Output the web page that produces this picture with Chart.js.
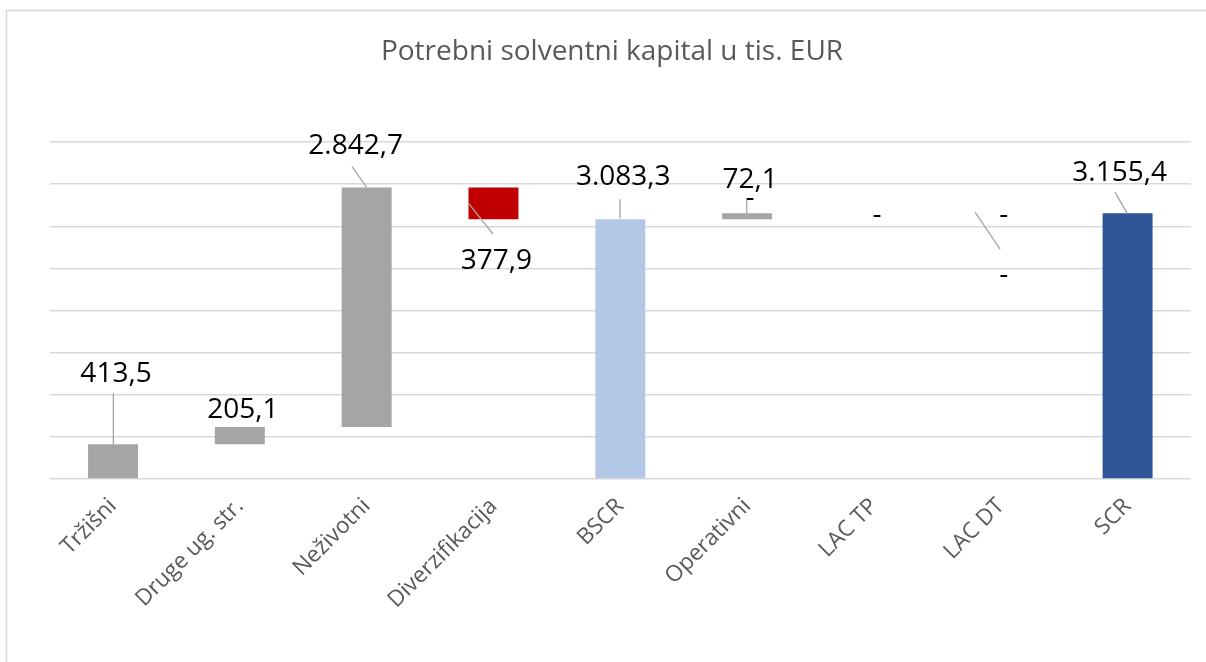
<!DOCTYPE html>
<html>
<head>
<meta charset="utf-8">
<script src="https://cdn.jsdelivr.net/npm/chart.js@4"></script>
<style>
  html, body { margin: 0; padding: 0; background: #fff; }
  #wrap { position: relative; width: 1206px; height: 662px; }
</style>
</head>
<body>
<div id="wrap"><canvas id="wfChart" width="1206" height="662"></canvas></div>
<script>
// categories and values (tis. EUR)
const categories = ['Tržišni', 'Druge ug. str.', 'Neživotni', 'Diverzifikacija', 'BSCR', 'Operativni', 'LAC TP', 'LAC DT', 'SCR'];
const values = [413.5, 205.1, 2842.7, -377.9, 3083.3, 72.1, 0, 0, 3155.4];
// where each floating bar starts
const barStart = [0, 413.5, 618.6, 3461.3, 0, 3083.3, 3155.4, 3155.4, 0];
// extra "-" labels of the empty helper series
const extraLabels = ['', '', '', '', '', '-', '', '-', ''];
const yTicks = [0, 500, 1000, 1500, 2000, 2500, 3000, 3500, 4000];

const barColors = ['#a5a5a5', '#a5a5a5', '#a5a5a5', '#c00000', '#b4c7e7', '#a5a5a5', '#a5a5a5', '#a5a5a5', '#2f5597'];

// label placement, px relative to (bar center, bar top)
const labelOffsets = [[3, -62], [3, -9], [-11, -33], [3, 82], [3, -34], [3, -25], [3, 10], [3, 10], [-8, -32]];
const extraOffsets = [null, null, null, null, null, [3, -7], null, [3, 70], null];
const leaderLines = [
  [0.3, -51, 0.3, 0],
  null,
  [-14.6, -20.7, 0, 0],
  [-25.5, 15.3, -0.5, 46.6],
  [-0.3, -20, -0.3, -1],
  [-0.4, -13, -0.4, 0],
  null,
  [-25.7, -1, -0.7, 36],
  [-12.6, -21, -0.6, 0]
];

function fmt(v) {
  if (v === 0) return '-';
  const parts = Math.abs(v).toFixed(1).split('.');
  return parts[0].replace(/\B(?=(\d{3})+(?!\d))/g, '.') + ',' + parts[1];
}

const frameAndTitle = {
  id: 'frameAndTitle',
  beforeDraw(chart) {
    const ctx = chart.ctx;
    ctx.save();
    ctx.fillStyle = '#fff';
    ctx.fillRect(0, 0, chart.width, chart.height);
    ctx.strokeStyle = '#d9d9d9';
    ctx.lineWidth = 1.5;
    ctx.strokeRect(6.5, 10.5, 1400, 1000);
    ctx.restore();
  },
  afterDraw(chart) {
    const ctx = chart.ctx;
    ctx.save();
    ctx.font = '28px "Open Sans"';
    ctx.fillStyle = '#595959';
    ctx.textAlign = 'center';
    ctx.textBaseline = 'middle';
    ctx.fillText('Potrebni solventni kapital u tis. EUR', 612, 52);
    ctx.restore();
  }
};

const wfLabels = {
  id: 'wfLabels',
  afterDatasetsDraw(chart) {
    const { ctx, scales: { x, y } } = chart;
    ctx.save();
    ctx.strokeStyle = '#a6a6a6';
    ctx.lineWidth = 1.3;
    ctx.font = '28px "Open Sans"';
    ctx.fillStyle = '#000';
    ctx.textAlign = 'center';
    ctx.textBaseline = 'alphabetic';
    categories.forEach((c, i) => {
      const cx = x.getPixelForValue(i);
      const top = y.getPixelForValue(Math.max(barStart[i], barStart[i] + values[i]));
      const lead = leaderLines[i];
      if (lead) {
        ctx.beginPath();
        ctx.moveTo(cx + lead[0], top + lead[1]);
        ctx.lineTo(cx + lead[2], top + lead[3]);
        ctx.stroke();
      }
      const o = labelOffsets[i];
      ctx.fillText(fmt(values[i]), cx + o[0], top + o[1]);
      if (extraLabels[i]) {
        const e = extraOffsets[i];
        ctx.fillText(extraLabels[i], cx + e[0], top + e[1]);
      }
    });
    ctx.restore();
  }
};

new Chart(document.getElementById('wfChart'), {
  type: 'bar',
  data: {
    labels: categories,
    datasets: [{
      data: categories.map((c, i) => [barStart[i], barStart[i] + values[i]]),
      backgroundColor: barColors,
      borderWidth: 0,
      barPercentage: 0.394,
      categoryPercentage: 1
    }]
  },
  options: {
    responsive: false,
    animation: false,
    devicePixelRatio: 1,
    layout: { padding: { top: 142, left: 49.6, right: 15, bottom: 0 } },
    plugins: {
      legend: { display: false },
      title: { display: false },
      tooltip: { enabled: false }
    },
    scales: {
      x: {
        grid: { display: false, drawTicks: false },
        border: { display: false },
        ticks: {
          autoSkip: false,
          minRotation: 45,
          maxRotation: 45,
          padding: 14,
          color: '#595959',
          font: { family: 'Open Sans', size: 22.5 }
        },
        afterFit: s => { s.height = 662 - 479; }
      },
      y: {
        min: 0,
        max: 4000,
        afterBuildTicks: s => { s.ticks = yTicks.map(v => ({ value: v })); },
        grid: { color: '#d9d9d9', lineWidth: 1.5, drawTicks: false },
        border: { display: false },
        ticks: { display: false },
        afterFit: s => { s.width = 0; }
      }
    }
  },
  plugins: [frameAndTitle, wfLabels]
});
</script>
</body>
</html>
